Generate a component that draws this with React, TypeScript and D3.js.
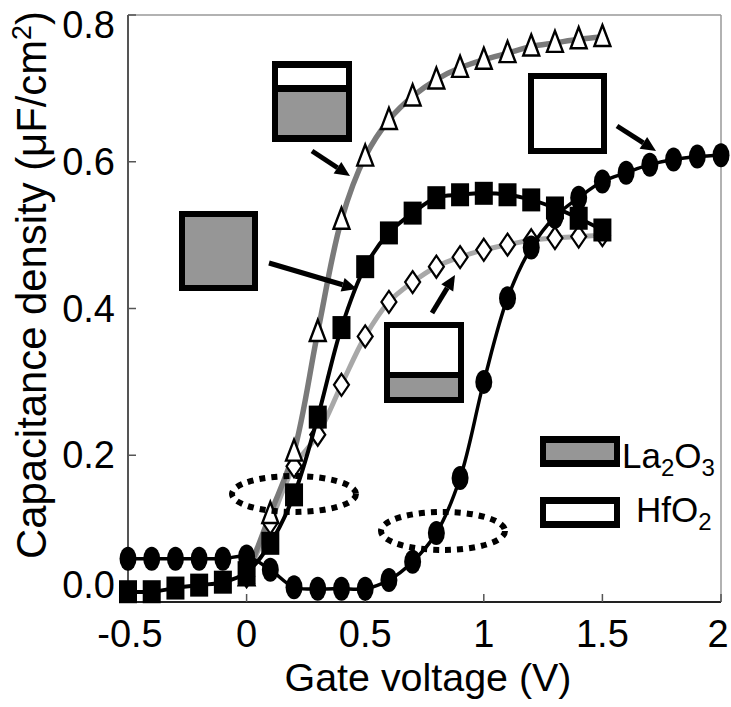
import React from 'react';
import * as d3 from 'd3';

// gate voltage (V) and capacitance density (uF/cm2)
const triV = [0, 0.1, 0.2, 0.3, 0.4, 0.5, 0.6, 0.7, 0.8, 0.9, 1.0, 1.1, 1.2, 1.3, 1.4, 1.5];
const triC = [0.035, 0.12, 0.205, 0.368, 0.521, 0.607, 0.657, 0.689, 0.712, 0.728, 0.739, 0.748, 0.757, 0.762, 0.767, 0.77];

const diaV = [0, 0.1, 0.2, 0.3, 0.4, 0.5, 0.6, 0.7, 0.8, 0.9, 1.0, 1.1, 1.2, 1.3, 1.4, 1.5];
const diaC = [0.035, 0.108, 0.185, 0.228, 0.296, 0.362, 0.409, 0.436, 0.457, 0.47, 0.48, 0.487, 0.493, 0.496, 0.498, 0.5];

const sqV = [-0.5, -0.4, -0.3, -0.2, -0.1, 0, 0.1, 0.2, 0.3, 0.4, 0.5, 0.6, 0.7, 0.8, 0.9, 1.0, 1.1, 1.2, 1.3, 1.4, 1.5];
const sqC = [0.014, 0.014, 0.019, 0.023, 0.027, 0.04, 0.08, 0.146, 0.252, 0.374, 0.457, 0.503, 0.53, 0.551, 0.555, 0.557, 0.555, 0.548, 0.537, 0.523, 0.507];

const circV = [-0.5, -0.4, -0.3, -0.2, -0.1, 0, 0.1, 0.2, 0.3, 0.4, 0.5, 0.6, 0.7, 0.8, 0.9, 1.0, 1.1, 1.2, 1.3, 1.4, 1.5, 1.6, 1.7, 1.8, 1.9, 2.0];
const circC = [0.059, 0.059, 0.059, 0.059, 0.059, 0.062, 0.044, 0.02, 0.018, 0.018, 0.018, 0.03, 0.055, 0.094, 0.169, 0.3, 0.414, 0.483, 0.525, 0.551, 0.573, 0.585, 0.596, 0.603, 0.607, 0.609];

const xTicks = [-0.5, 0, 0.5, 1, 1.5, 2];
const xTickLabels = ['-0.5', '0', '0.5', '1', '1.5', '2'];
const yTicks = [0, 0.2, 0.4, 0.6, 0.8];
const yTickLabels = ['0.0', '0.2', '0.4', '0.6', '0.8'];

const W = 731;
const H = 707;
const FONT = '"Liberation Sans", Arial, sans-serif';

const x = d3.scaleLinear().domain([-0.5, 2]).range([128, 721]);
const y = d3.scaleLinear().domain([0, 0.8]).range([602, 15]);

const pts = (vs: number[], cs: number[]) => vs.map((v, i) => [x(v), y(cs[i])] as [number, number]);
const line = d3.line().curve(d3.curveCatmullRom.alpha(0.5));

function Arrow({ x1, y1, x2, y2 }: { x1: number; y1: number; x2: number; y2: number }) {
  const a = Math.atan2(y2 - y1, x2 - x1);
  const len = 15, half = 7;
  const bx = x2 - len * Math.cos(a), by = y2 - len * Math.sin(a);
  const px = -Math.sin(a) * half, py = Math.cos(a) * half;
  return (
    <g>
      <line x1={x1} y1={y1} x2={bx} y2={by} stroke="#000" strokeWidth={5} />
      <polygon points={`${x2},${y2} ${bx + px},${by + py} ${bx - px},${by - py}`} fill="#000" />
    </g>
  );
}

// stack box: outer black frame, optional white/gray bands
function Stack({ x0, y0, w, h, bands }: { x0: number; y0: number; w: number; h: number; bands: [number, number, string][] }) {
  return (
    <g>
      <rect x={x0} y={y0} width={w} height={h} fill="#000" />
      {bands.map(([t, b, c], i) => (
        <rect key={i} x={x0 + 6} y={t} width={w - 12} height={b - t} fill={c} />
      ))}
    </g>
  );
}

export default function App() {
  const tri = pts(triV, triC);
  const dia = pts(diaV, diaC);
  const sq = pts(sqV, sqC);
  const circ = pts(circV, circC);
  const gray = '#969696';

  return (
    <svg width={W} height={H} style={{ position: 'absolute', left: 0, top: 0, background: '#fff' }} fontFamily={FONT}>
      <rect width={W} height={H} fill="#fff" />
      {/* frame */}
      <line x1={128} y1={15} x2={721} y2={15} stroke="#999" strokeWidth={1.5} />
      <line x1={721} y1={15} x2={721} y2={602} stroke="#999" strokeWidth={1.5} />
      <line x1={128} y1={15} x2={128} y2={602} stroke="#555" strokeWidth={2} />
      <line x1={128} y1={602} x2={721} y2={602} stroke="#222" strokeWidth={2} />

      {yTicks.map((t, i) => (
        <g key={'y' + i}>
          <line x1={128} x2={136} y1={y(t)} y2={y(t)} stroke="#555" strokeWidth={1.5} />
          <text x={115} y={y(t) + 13 + (t === 0.8 ? 10 : t === 0 ? -17 : 0)} textAnchor="end" fontSize={38} fill="#000">
            {yTickLabels[i]}
          </text>
        </g>
      ))}
      {xTicks.map((t, i) => (
        <g key={'x' + i}>
          <line x1={x(t)} x2={x(t)} y1={602} y2={594} stroke="#555" strokeWidth={1.5} />
          <text x={x(t) + (t === 2 ? -3 : t === -0.5 ? 2 : 0)} y={647} textAnchor="middle" fontSize={38} fill="#000">
            {xTickLabels[i]}
          </text>
        </g>
      ))}

      <text x={428} y={691} textAnchor="middle" fontSize={39} textLength={287} lengthAdjust="spacingAndGlyphs">
        Gate voltage (V)
      </text>
      <text transform="translate(46,285) rotate(-90)" textAnchor="middle" fontSize={42} textLength={548} lengthAdjust="spacingAndGlyphs">
        Capacitance density (μF/cm<tspan baselineShift="super" fontSize={27}>2</tspan>)
      </text>

      {/* series lines */}
      <path d={line(dia) || ''} fill="none" stroke="#a8a8a8" strokeWidth={5} />
      <path d={line(tri) || ''} fill="none" stroke="#7a7a7a" strokeWidth={5.5} />

      {dia.map(([px, py], i) => (
        <polygon key={'d' + i} points={`${px},${py - 11} ${px + 7.5},${py} ${px},${py + 11} ${px - 7.5},${py}`} fill="#fff" stroke="#000" strokeWidth={2.2} />
      ))}
      {tri.map(([px, py], i) => (
        <polygon key={'t' + i} points={`${px},${py - 12} ${px + 8},${py + 9} ${px - 8},${py + 9}`} fill="#fff" stroke="#000" strokeWidth={2.4} />
      ))}

      <path d={line(sq) || ''} fill="none" stroke="#000" strokeWidth={4} />
      {sq.map(([px, py], i) => (
        <rect key={'s' + i} x={px - 9} y={py - 11.5} width={18} height={23} fill="#000" />
      ))}

      <path d={line(circ) || ''} fill="none" stroke="#000" strokeWidth={3.5} />
      {circ.map(([px, py], i) => (
        <ellipse key={'c' + i} cx={px} cy={py} rx={8.5} ry={12} fill="#000" />
      ))}

      {/* dotted ellipses */}
      <ellipse cx={294} cy={494} rx={62} ry={18} fill="none" stroke="#000" strokeWidth={6} strokeDasharray="6 6" />
      <ellipse cx={443} cy={531} rx={62} ry={19} fill="none" stroke="#000" strokeWidth={6} strokeDasharray="6 6" />

      {/* gate stack insets */}
      <Stack x0={272} y0={61} w={80} h={81} bands={[[68, 85, '#fff'], [92, 135, gray]]} />
      <Stack x0={179} y0={211} w={79} h={80} bands={[[217, 285, gray]]} />
      <Stack x0={528} y0={73} w={79} h={81} bands={[[79, 148, '#fff']]} />
      <Stack x0={384} y0={322} w={80} h={81} bands={[[328, 372, '#fff'], [378, 397, gray]]} />

      <Arrow x1={312} y1={151} x2={350} y2={176} />
      <Arrow x1={269} y1={263} x2={357} y2={289} />
      <Arrow x1={617} y1={126} x2={656} y2={151} />
      <Arrow x1={432} y1={313} x2={455} y2={275} />

      {/* legend */}
      <Stack x0={540} y0={436} w={80} h={31} bands={[[443, 460, gray]]} />
      <Stack x0={540} y0={497} w={80} h={31} bands={[[504, 521, '#fff']]} />
      <text x={622} y={468} fontSize={35}>
        La<tspan fontSize={24} dy={8}>2</tspan><tspan dy={-8}>O</tspan><tspan fontSize={24} dy={8}>3</tspan>
      </text>
      <text x={636} y={522} fontSize={35}>
        HfO<tspan fontSize={24} dy={8}>2</tspan>
      </text>
    </svg>
  );
}
